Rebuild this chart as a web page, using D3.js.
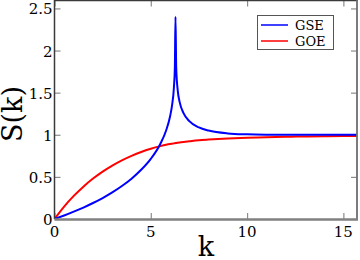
<!DOCTYPE html>
<html>
<head>
<meta charset="utf-8">
<script src="https://cdn.jsdelivr.net/npm/d3@7"></script>
<style>
  body { margin: 0; background: #fff; }
  svg text { font-family: "DejaVu Serif", serif; }
</style>
</head>
<body>
<div id="chart"></div>
<script>
// sample points of k
var kValues = [0, 0.5, 1, 1.5, 2, 2.5, 3, 3.5, 4, 4.5, 5, 5.5, 5.8, 6.0, 6.1, 6.2, 6.25, 6.283, 6.32, 6.4,
  6.5, 6.7, 7, 7.5, 8, 9, 10, 11, 12, 12.57, 13, 14, 15, 15.71];
var gseValues = [0, 0.041, 0.087, 0.136, 0.190, 0.249, 0.316, 0.392, 0.479, 0.584, 0.714, 0.894, 1.054, 1.217, 1.343, 1.560, 1.801, 2.40, 1.795, 1.524,
  1.388, 1.257, 1.162, 1.087, 1.050, 1.016, 1.005, 1.001, 1.000, 1.000, 1.000, 1.000, 1.000, 1.000];
var goeValues = [0, 0.147, 0.274, 0.384, 0.480, 0.563, 0.635, 0.697, 0.750, 0.796, 0.834, 0.865, 0.881, 0.890, 0.894, 0.898, 0.900, 0.901, 0.903, 0.906,
  0.909, 0.915, 0.923, 0.935, 0.943, 0.956, 0.965, 0.971, 0.976, 0.978, 0.980, 0.983, 0.985, 0.986];
var seriesNames = ["GSE", "GOE"];
var xTicks = [0, 5, 10, 15];
var yTicks = [0, 0.5, 1, 1.5, 2, 2.5];

var width = 360, height = 260;
var plotLeft = 54.5, plotRight = 357, plotTop = 0.5, plotBottom = 219;

var svg = d3.select("#chart")
  .append("svg")
    .attr("width", width)
    .attr("height", height);

var x = d3.scaleLinear()
  .domain([0, 15.708])
  .range([plotLeft, plotRight]);

var y = d3.scaleLinear()
  .domain([0, 2.6])
  .range([plotBottom, 0]);

svg.append("clipPath").attr("id", "plotclip")
  .append("rect")
    .attr("x", plotLeft).attr("y", plotTop)
    .attr("width", plotRight - plotLeft).attr("height", plotBottom - plotTop);

// ticks, pointing inwards, on all four sides
var tickColor = "#8c8c8c";
function styleTicks(g) {
  g.select(".domain").remove();
  g.selectAll("line").attr("stroke", tickColor).attr("stroke-width", 1.2);
}
svg.append("g")
  .attr("transform", "translate(0," + plotBottom + ")")
  .call(d3.axisTop(x).tickValues(xTicks).tickSize(6).tickFormat(""))
  .call(styleTicks);
svg.append("g")
  .attr("transform", "translate(0," + plotTop + ")")
  .call(d3.axisBottom(x).tickValues(xTicks).tickSize(6).tickFormat(""))
  .call(styleTicks);
svg.append("g")
  .attr("transform", "translate(" + plotLeft + ",0)")
  .call(d3.axisRight(y).tickValues(yTicks).tickSize(6).tickFormat(""))
  .call(styleTicks);
svg.append("g")
  .attr("transform", "translate(" + plotRight + ",0)")
  .call(d3.axisLeft(y).tickValues(yTicks).tickSize(6).tickFormat(""))
  .call(styleTicks);

// tick labels
svg.append("g").selectAll("text")
  .data(xTicks)
  .enter()
  .append("text")
    .attr("x", function(d) { return x(d); })
    .attr("y", plotBottom + 18)
    .attr("text-anchor", "middle")
    .style("font-size", "15px")
    .text(function(d) { return d; });

svg.append("g").selectAll("text")
  .data(yTicks)
  .enter()
  .append("text")
    .attr("x", plotLeft - 2)
    .attr("y", function(d) { return y(d) + 6; })
    .attr("text-anchor", "end")
    .style("font-size", "15px")
    .text(function(d) { return d; });

// curves
var pts = function(vals) { return kValues.map(function(k, i) { return [k, vals[i]]; }); };
var line = d3.line()
  .x(function(d) { return x(d[0]); })
  .y(function(d) { return y(d[1]); })
  .curve(d3.curveMonotoneX);

var colors = ["#0000ff", "#ff0000"];
var plots = svg.append("g").attr("clip-path", "url(#plotclip)");
plots.append("path")
  .datum(pts(goeValues))
  .attr("d", line)
  .attr("fill", "none")
  .attr("stroke", colors[1])
  .attr("stroke-width", 2);
plots.append("path")
  .datum(pts(gseValues))
  .attr("d", line)
  .attr("fill", "none")
  .attr("stroke", colors[0])
  .attr("stroke-width", 2);

// frame
svg.append("line").attr("x1", plotLeft).attr("x2", plotLeft).attr("y1", 0).attr("y2", plotBottom)
  .attr("stroke", "#3a3a3a").attr("stroke-width", 1.5);
svg.append("line").attr("x1", plotLeft).attr("x2", plotRight + 1).attr("y1", plotTop).attr("y2", plotTop)
  .attr("stroke", "#3a3a3a").attr("stroke-width", 1.5);
svg.append("line").attr("x1", plotRight).attr("x2", plotRight).attr("y1", 0).attr("y2", plotBottom)
  .attr("stroke", "#6e6e6e").attr("stroke-width", 1.8);
svg.append("line").attr("x1", plotLeft).attr("x2", plotRight + 1).attr("y1", plotBottom + 0.5).attr("y2", plotBottom + 0.5)
  .attr("stroke", "#808080").attr("stroke-width", 2.5);

// axis titles
svg.append("text")
  .attr("x", 206)
  .attr("y", 256)
  .attr("text-anchor", "middle")
  .style("font-size", "27px")
  .text("k");

svg.append("text")
  .attr("transform", "translate(22,114) rotate(-90)")
  .attr("text-anchor", "middle")
  .style("font-size", "27px")
  .text("S(k)");

// legend
var legend = svg.append("g");
legend.append("rect")
  .attr("x", 257.5).attr("y", 15.5)
  .attr("width", 76).attr("height", 34)
  .attr("fill", "#fff")
  .attr("stroke", "#555")
  .attr("stroke-width", 1);
seriesNames.forEach(function(name, i) {
  var ly = 25 + i * 16;
  legend.append("line")
    .attr("x1", 261).attr("x2", 288)
    .attr("y1", ly).attr("y2", ly)
    .attr("stroke", colors[i])
    .attr("stroke-width", 1.5);
  legend.append("text")
    .attr("x", 295)
    .attr("y", ly + 5)
    .style("font-size", "13px")
    .text(name);
});
</script>
</body>
</html>
